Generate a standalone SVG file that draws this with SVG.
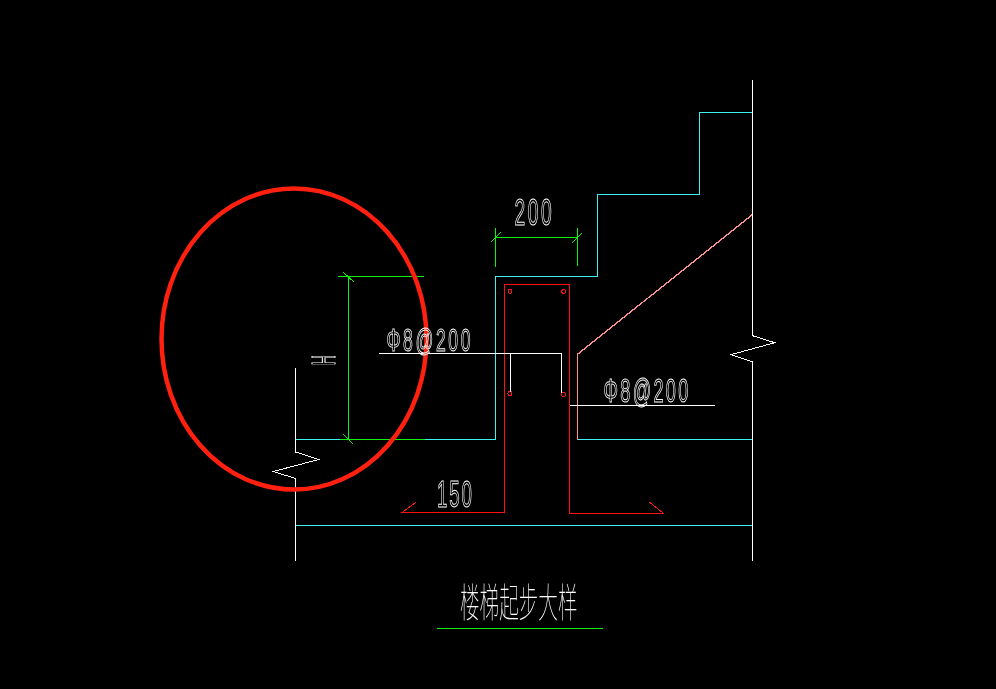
<svg xmlns="http://www.w3.org/2000/svg" width="996" height="689" viewBox="0 0 996 689">
<style>
.l{fill:none;stroke-width:1;shape-rendering:crispEdges}
.w{stroke:#fff}.c{stroke:#3ff0f0}.g{stroke:#10f010}.r{stroke:#ff1010}.p{stroke:#ff9090}
#labels{opacity:.995}
.t{font-family:"Liberation Sans",Arial,sans-serif;fill:none;stroke:#fff;stroke-width:.8;vector-effect:non-scaling-stroke}
.z{font-family:"Noto Sans CJK SC",sans-serif;font-weight:100;fill:#fff}
</style>
<rect width="996" height="689" fill="#000"/>
<g id="structure" class="l">
<path class="w" d="M295.5 368V452L318.7 459.5L273.3 471.5L295.5 478.5V561"/>
<path class="w" d="M752.5 80V335.7L774.7 342.7L730.7 354.7L752.5 361.7V561"/>
<path class="c" d="M296 525.5H752M296 439.5H340M425 439.5H495.5V276.5H597.5V194.5H699.5V112.5H752M577.5 439.5H752"/>
<path class="p" d="M577.5 439.5V354.3"/>
<path class="p" d="M577.5 354.3L752 215" style="stroke-width:1.4"/>
</g>
<g id="rebar" class="l">
<path class="r" d="M415.7 502.3L402.3 512.5H504.5V284.5H569.5V513.5H663.7L649.3 502"/>
<g class="r">
<circle cx="510" cy="291.3" r="2"/><circle cx="563.7" cy="291.5" r="2"/><circle cx="510" cy="393.5" r="2"/><circle cx="563.5" cy="394.5" r="2"/>
</g>
<path class="w" d="M379 353.5H561.5V392.7M510.5 353.5V392M570 405.5H714.7"/>
</g>
<g id="dimensions" class="l">
<path class="g" d="M495.5 228V267M577.5 228V266M495.5 237.5H577.5M491 242L501 232M572 243L582 233"/>
<path class="g" d="M338 276.5H424M348.5 276.5V439.5M343 272L354 282M343 434L353 444M340 439.5H425"/>
<path class="g" d="M437 628.5H602.7"/>
</g>
<ellipse id="highlight" cx="294" cy="339" rx="132.5" ry="150.5" fill="none" stroke="#ff2010" stroke-width="4.5"/>
<g id="labels">
<text class="t" transform="translate(514.5 225) scale(.52 1)" font-size="37" letter-spacing="5">200</text>
<text class="t" transform="translate(437 507) scale(.52 1)" font-size="36" letter-spacing="3.6">150</text>
<text class="t" transform="translate(386.5 351) scale(.55 1)" font-size="32" letter-spacing="4.7">Φ8@200</text>
<text class="t" transform="translate(603.5 402) scale(.55 1)" font-size="33" letter-spacing="4.2">Φ8@200</text>
<text class="t" transform="translate(312 355) rotate(90) scale(.42 1)" font-size="34">H</text>
<text class="z" transform="translate(460 617) scale(.49 1)" font-size="40">楼梯起步大样</text>
</g>
</svg>
